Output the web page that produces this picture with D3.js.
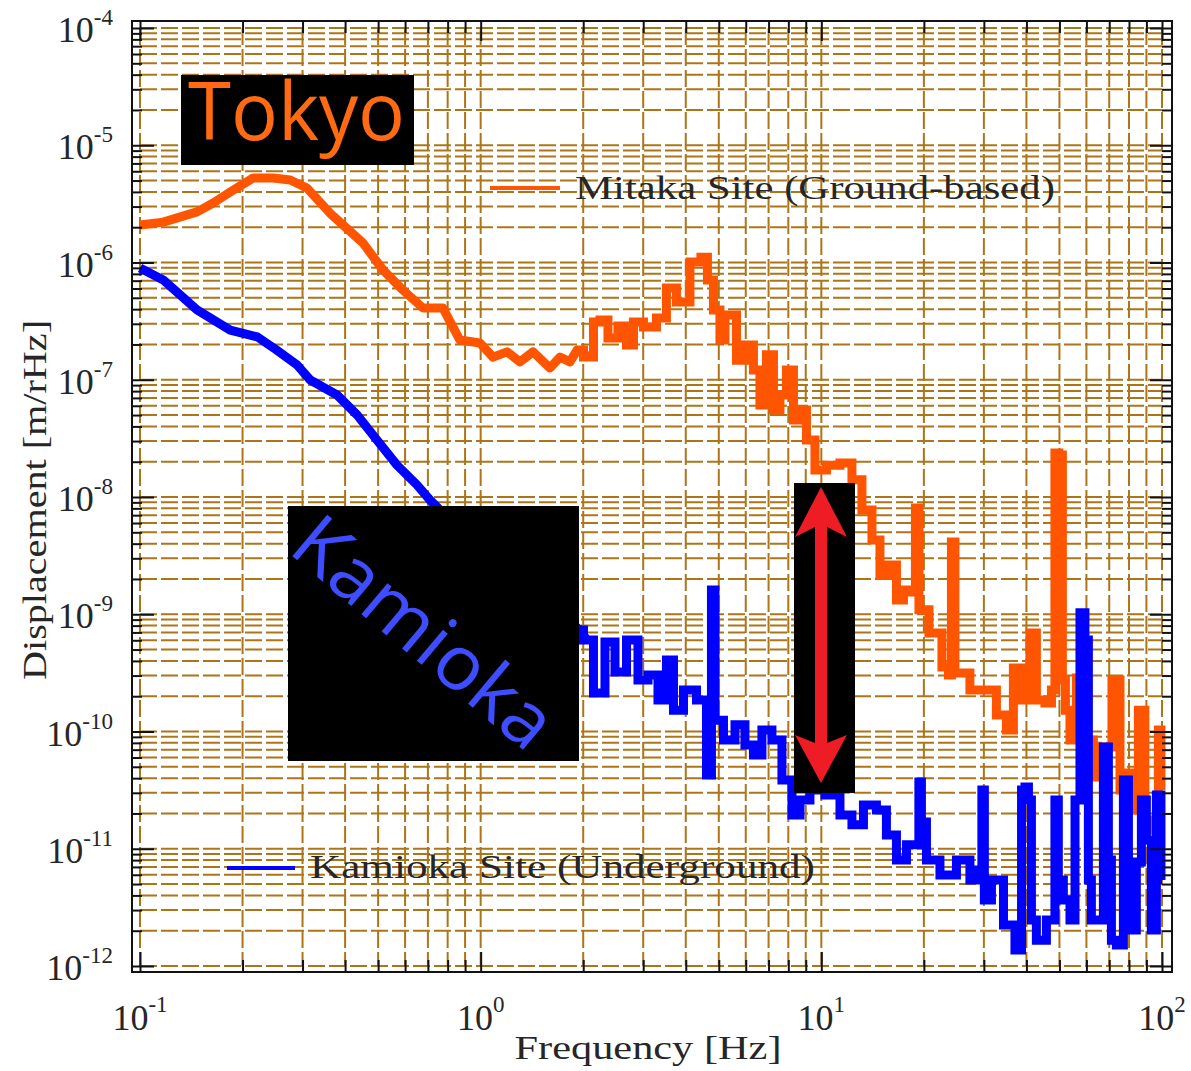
<!DOCTYPE html>
<html lang="en">
<head>
<meta charset="UTF-8">
<title>Seismic displacement: Mitaka vs Kamioka</title>
<script src="https://d3js.org/d3.v7.min.js"></script>
<style>
    body { margin: 0; background: #fff; }
    text { font-family: "Liberation Serif", "DejaVu Serif", serif; fill: #262626; }
    .big { font-family: "Open Sans", "DejaVu Sans", sans-serif; }
</style>
</head>
<body>
<div class="canvas"></div>
<script>
// --- data ---
const mitakaFreq = [0.1, 0.117, 0.147, 0.164, 0.184, 0.215, 0.246, 0.276, 0.309, 0.361, 0.451, 0.517, 0.591, 0.677, 0.775,
    0.869, 0.995, 1.087, 1.195, 1.304, 1.424, 1.597, 1.709, 1.829, 1.918, 2.094, 2.195, 2.286, 2.445, 2.616, 2.744, 2.876,
    3.14, 3.428, 3.594, 3.925, 4.313, 4.553, 4.71, 4.938, 5.143, 5.284, 5.503, 5.77, 6.172, 6.471, 6.739, 7.066, 7.408,
    7.715, 8.088, 8.482, 8.832, 9.26, 9.906, 10.82, 11.89, 12.72, 13.61, 14.57, 15.16, 16.23, 17.01, 17.84, 18.7, 19.08,
    19.61, 21.85, 23.37, 23.85, 24.34, 25.0, 26.04, 28.62, 31.25, 34.12, 35.77, 37.5, 40.13, 41.79, 43.8, 46.9, 47.85,
    49.14, 50.5, 51.5, 52.6, 54.8, 57.4, 61.4, 64.4, 68.9, 73.8, 76.8, 82.1, 84.4, 86.1, 92.1, 96.6, 98.6, 100];
const mitakaDisp = [2.09e-6, 2.21e-6, 2.70e-6, 3.22e-6, 3.99e-6, 5.26e-6, 5.26e-6, 5.05e-6, 4.32e-6, 2.64e-6, 1.47e-6,
    8.63e-7, 5.83e-7, 4.09e-7, 4.09e-7, 2.18e-7, 2.06e-7, 1.56e-7, 1.73e-7, 1.42e-7, 1.73e-7, 1.26e-7, 1.56e-7, 1.42e-7,
    1.79e-7, 1.56e-7, 3.11e-7, 3.24e-7, 2.27e-7, 2.87e-7, 1.98e-7, 3.11e-7, 2.82e-7, 3.36e-7, 6.06e-7, 4.60e-7, 1.01e-6,
    1.11e-6, 7.10e-7, 3.94e-7, 2.18e-7, 3.56e-7, 3.56e-7, 1.47e-7, 1.98e-7, 1.21e-7, 6.09e-8, 1.63e-7, 5.52e-8, 7.41e-8,
    1.21e-7, 4.54e-8, 5.52e-8, 3.06e-8, 1.70e-8, 1.87e-8, 1.95e-8, 1.40e-8, 7.74e-9, 4.30e-9, 2.16e-9, 2.63e-9, 1.32e-9,
    1.61e-9, 1.55e-9, 8.05e-9, 1.09e-9, 6.92e-10, 3.55e-10, 3.03e-10, 4.13e-9, 3.15e-10, 3.15e-10, 2.26e-10, 2.26e-10,
    1.38e-10, 1.03e-10, 3.48e-10, 1.86e-10, 6.92e-10, 1.86e-10, 1.75e-10, 2.26e-10, 2.37e-8, 2.28e-8, 2.75e-10, 1.52e-10,
    8.47e-11, 2.86e-10, 8.47e-11, 4.09e-11, 7.38e-11, 2.75e-10, 3.17e-11, 4.43e-11, 2.14e-11, 1.52e-10, 1.44e-11,
    1.76e-11, 1.03e-10, 3.17e-11];

const kamiokaFreq = [0.1, 0.117, 0.147, 0.184, 0.221, 0.252, 0.289, 0.316, 0.379, 0.434, 0.496, 0.568, 0.65, 0.71, 0.93,
    1.219, 1.544, 1.957, 2.051, 2.24, 2.396, 2.565, 2.80, 2.995, 3.206, 3.428, 3.594, 3.77, 4.115, 4.494, 4.71, 4.807,
    4.938, 5.394, 5.77, 6.172, 6.471, 6.922, 7.408, 7.925, 8.482, 8.832, 9.707, 10.82, 11.89, 12.72, 13.89, 15.16, 15.9,
    17.36, 18.2, 19.2, 19.47, 19.87, 20.84, 23.85, 26.04, 28.62, 29.4, 29.8, 30.4, 32.8, 35.77, 38.3, 39.1, 40.13, 40.96,
    41.79, 43.8, 47.85, 49.14, 50.1, 52.6, 54.8, 56.3, 58.6, 60.2, 61.4, 62.7, 65.7, 68.9, 70.3, 71.8, 75.2, 78.9, 80.5,
    82.1, 86.1, 87.9, 92.1, 94.0, 98.6, 100];
const kamiokaDisp = [8.97e-7, 7.10e-7, 3.94e-7, 2.65e-7, 2.32e-7, 1.79e-7, 1.34e-7, 9.95e-8, 7.41e-8, 5.01e-8, 3.06e-8,
    1.87e-8, 1.27e-8, 9.42e-9, 4.30e-9, 2.16e-9, 1.20e-9, 7.35e-10, 6.03e-10, 2.13e-10, 5.79e-10, 3.21e-10, 6.03e-10,
    2.75e-10, 3.03e-10, 1.86e-10, 4.07e-10, 1.52e-10, 2.26e-10, 1.86e-10, 4.26e-11, 1.61e-9, 1.25e-10, 8.47e-11,
    1.14e-10, 7.67e-11, 6.31e-11, 1.03e-10, 8.47e-11, 3.85e-11, 1.94e-11, 2.61e-11, 3.17e-11, 2.87e-11, 1.94e-11,
    1.60e-11, 2.36e-11, 2.14e-11, 1.31e-11, 8.02e-12, 1.08e-11, 1.08e-11, 3.71e-11, 1.69e-11, 8.02e-12, 5.97e-12,
    8.02e-12, 5.41e-12, 6.59e-12, 3.17e-11, 3.66e-12, 5.41e-12, 2.24e-12, 1.37e-12, 3.17e-11, 3.36e-11, 2.61e-11,
    2.47e-12, 1.66e-12, 2.47e-12, 2.61e-11, 5.41e-12, 3.66e-12, 2.47e-12, 2.61e-11, 1.03e-9, 6.03e-10, 5.41e-12,
    2.47e-12, 2.47e-12, 7.38e-11, 8.02e-12, 1.66e-12, 1.51e-12, 3.85e-11, 6.59e-12, 2.03e-12, 7.71e-12, 2.61e-11,
    1.19e-11, 2.03e-12, 2.87e-11, 5.41e-12];

const xTickExps = [-1, 0, 1, 2];
const yTickExps = [-4, -5, -6, -7, -8, -9, -10, -11, -12];
const seriesNames = ['Mitaka Site (Ground-based)', 'Kamioka Site (Underground)'];
const siteLabels = ['Tokyo', 'Kamioka'];

// --- layout ---
const width = 1191, height = 1071;
const frame = { left: 132, right: 1172, top: 21, bottom: 972 };
const orange = '#ff5500', blue = '#0000ff', gridColor = '#ad7518';
const stepFrom = 2; // above ~2 Hz the spectra are drawn as raw steps

const svg = d3.select('.canvas').append('svg')
    .attr('width', width).attr('height', height);

const x = d3.scaleLog().domain([0.1, 100]).range([140, 1162]);
const y = d3.scaleLog().domain([1e-12, 1e-4]).range([966, 28]);

const isMajor = d => Math.abs(Math.log10(d) - Math.round(Math.log10(d))) < 1e-6;

// grid
const grid = svg.append('g').attr('stroke', gridColor).attr('stroke-width', 2);
grid.selectAll('line.gx').data(x.ticks()).enter().append('line')
    .attr('class', 'gx')
    .attr('x1', d => x(d)).attr('x2', d => x(d))
    .attr('y1', y(1e-4)).attr('y2', y(1e-12))
    .attr('stroke-dasharray', '17,4');
grid.selectAll('line.gy').data(y.ticks()).enter().append('line')
    .attr('class', 'gy')
    .attr('y1', d => y(d)).attr('y2', d => y(d))
    .attr('x1', x(0.1)).attr('x2', x(100))
    .attr('stroke-dasharray', '17,4');

// curves: smooth part linear, noisy part stepped
const smoothLine = d3.line().x(d => x(d[0])).y(d => y(d[1]));
const stepLine = d3.line().x(d => x(d[0])).y(d => y(d[1])).curve(d3.curveStep);

function drawSeries(freq, disp, color) {
    const pts = freq.map((f, i) => [f, disp[i]]);
    const k = pts.findIndex(p => p[0] >= stepFrom);
    const g = svg.append('g').attr('fill', 'none').attr('stroke', color)
        .attr('stroke-width', 9).attr('stroke-linejoin', 'miter').attr('stroke-miterlimit', 2);
    g.append('path').datum(pts.slice(0, k + 1)).attr('d', smoothLine).attr('stroke-linejoin', 'round');
    g.append('path').datum(pts.slice(k - 1)).attr('d', stepLine);
}
drawSeries(mitakaFreq, mitakaDisp, orange);
drawSeries(kamiokaFreq, kamiokaDisp, blue);

// frame + inward ticks
svg.append('rect')
    .attr('x', frame.left).attr('y', frame.top)
    .attr('width', frame.right - frame.left).attr('height', frame.bottom - frame.top)
    .attr('fill', 'none').attr('stroke', '#111').attr('stroke-width', 2);

function tickAxis(axisFn, scale, tf) {
    const g = svg.append('g').attr('transform', tf)
        .call(axisFn(scale).tickValues(scale.ticks()).tickSize(10).tickFormat(''));
    g.select('.domain').remove();
    g.selectAll('.tick line').attr('stroke', '#111').attr('stroke-width', 2);
    return g;
}
tickAxis(d3.axisRight, y, `translate(${frame.left},0)`)
    .selectAll('.tick line').attr('x2', d => isMajor(d) ? 22 : 10);
tickAxis(d3.axisLeft, y, `translate(${frame.right},0)`)
    .selectAll('.tick line').attr('x2', d => isMajor(d) ? -22 : -10);
tickAxis(d3.axisTop, x, `translate(0,${frame.bottom})`)
    .selectAll('.tick line').attr('y2', d => isMajor(d) ? -20 : -12);
tickAxis(d3.axisBottom, x, `translate(0,${frame.top})`)
    .selectAll('.tick line').attr('y2', d => isMajor(d) ? 20 : 12);

// tick labels 10^n
const yLab = svg.selectAll('text.ylab').data(yTickExps).enter().append('text')
    .attr('class', 'ylab')
    .attr('x', 113).attr('y', d => y(Math.pow(10, d)) + 14)
    .attr('text-anchor', 'end');
yLab.append('tspan').style('font-size', '36px').text('10');
yLab.append('tspan').style('font-size', '23px').attr('dy', -17).text(d => d);

const xLab = svg.selectAll('text.xlab').data(xTickExps).enter().append('text')
    .attr('class', 'xlab')
    .attr('x', d => x(Math.pow(10, d))).attr('y', 1030)
    .attr('text-anchor', 'middle');
xLab.append('tspan').style('font-size', '36px').text('10');
xLab.append('tspan').style('font-size', '23px').attr('dy', -18).text(d => d);

// axis titles
svg.append('text')
    .attr('x', 648).attr('y', 1059).attr('text-anchor', 'middle')
    .attr('textLength', 267).attr('lengthAdjust', 'spacingAndGlyphs')
    .style('font-size', '34px').text('Frequency [Hz]');
svg.append('text')
    .attr('transform', 'translate(46,500) rotate(-90)').attr('text-anchor', 'middle')
    .attr('textLength', 360).attr('lengthAdjust', 'spacingAndGlyphs')
    .style('font-size', '34px').text('Displacement [m/rHz]');

// legend entries
const legend = [
    { name: seriesNames[0], color: orange, x0: 490, x1: 560, ly: 188, tx: 575, ty: 199, len: 480 },
    { name: seriesNames[1], color: blue, x0: 227, x1: 295, ly: 868, tx: 310, ty: 878, len: 505 }
];
legend.forEach(l => {
    svg.append('line').attr('x1', l.x0).attr('x2', l.x1).attr('y1', l.ly).attr('y2', l.ly)
        .attr('stroke', l.color).attr('stroke-width', 4);
    svg.append('text').attr('x', l.tx).attr('y', l.ty)
        .attr('textLength', l.len).attr('lengthAdjust', 'spacingAndGlyphs')
        .style('font-size', '34px').text(l.name);
});

// site annotations
svg.append('rect').attr('x', 181).attr('y', 75).attr('width', 233).attr('height', 90).attr('fill', '#000');
svg.append('text').attr('class', 'big')
    .attr('x', 188).attr('y', 140)
    .attr('textLength', 217).attr('lengthAdjust', 'spacingAndGlyphs')
    .style('font-size', '80px').style('fill', '#ff6a13').text(siteLabels[0]);

svg.append('rect').attr('x', 288).attr('y', 506).attr('width', 291).attr('height', 255).attr('fill', '#000');
svg.append('text').attr('class', 'big')
    .attr('transform', 'translate(426,630) rotate(40)')
    .attr('text-anchor', 'middle').attr('dominant-baseline', 'central')
    .attr('textLength', 315).attr('lengthAdjust', 'spacingAndGlyphs')
    .style('font-size', '76px').style('fill', '#3d4dff').text(siteLabels[1]);

// red double arrow
svg.append('rect').attr('x', 794).attr('y', 483).attr('width', 61).attr('height', 310).attr('fill', '#000');
const ax = 821;
const arrowPts = [
    [ax, 487], [ax + 26, 537], [ax + 6, 527], [ax + 6, 743], [ax + 26, 735],
    [ax, 783], [ax - 26, 735], [ax - 6, 743], [ax - 6, 527], [ax - 26, 537]
];
svg.append('path').attr('d', d3.line()(arrowPts) + 'Z').attr('fill', '#ee1c24');
</script>
</body>
</html>
